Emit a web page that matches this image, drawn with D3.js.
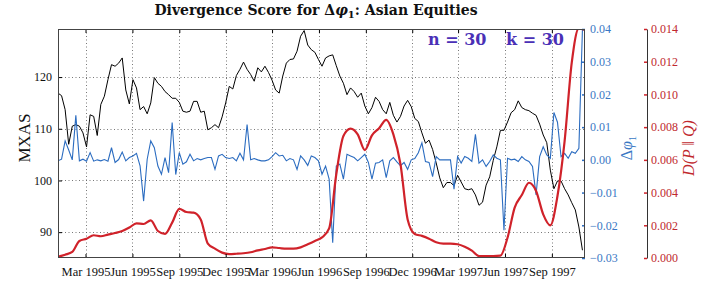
<!DOCTYPE html>
<html><head><meta charset="utf-8">
<script src="https://cdnjs.cloudflare.com/ajax/libs/d3/7.8.5/d3.min.js"></script>
<style>body{margin:0;background:#fff}svg{display:block;font-family:"Liberation Serif",serif}</style>
</head><body><svg id="c" width="706" height="281"></svg>
<script>
const startDate = "1995-01-06";
const endDate = "1997-11-05";
const xTickDates = ["1995-03-01","1995-06-01","1995-09-01","1995-12-01","1996-03-01","1996-06-01","1996-09-01","1996-12-01","1997-03-01","1997-06-01","1997-09-01"];
const leftTicks = [90,100,110,120];
const blueTicks = [-0.03,-0.02,-0.01,0,0.01,0.02,0.03,0.04];
const redTicks = [0,0.002,0.004,0.006,0.008,0.010,0.012,0.014];
// weekly MXAS index
const mxas = [116.9,116.4,113.7,107.0,110.5,110.8,110.5,109.2,106.5,112.7,112.4,108.7,114.7,116.3,119.5,122.4,122.1,122.7,123.7,117.5,
114.8,119.5,117.9,113.7,114.3,112.9,115.0,119.9,118.8,118.2,117.2,116.6,115.9,115.9,115.1,113.4,113.2,113.4,115.3,115.3,
113.2,113.4,109.8,110.2,110.8,110.2,112.3,115.0,118.2,117.7,120.3,121.5,122.9,121.5,120.5,119.2,121.8,121.0,122.1,120.9,
119.4,117.5,116.9,120.2,122.7,123.4,123.5,125.0,127.9,129.0,126.2,125.3,124.8,123.4,122.1,123.7,124.1,124.3,122.2,120.2,
118.8,116.6,117.9,117.2,116.1,116.9,114.4,112.9,114.1,116.1,115.3,113.7,112.9,115.1,112.6,111.3,112.4,114.4,115.5,114.3,
112.0,111.4,109.2,107.2,107.8,106.0,103.4,100.5,98.6,99.6,99.6,99.0,101.0,99.7,98.4,98.2,98.4,97.2,95.2,95.8,
99.1,100.7,103.9,106.5,109.7,109.7,111.3,113.1,113.7,115.4,114.1,113.7,113.5,113.0,112.6,110.9,108.8,107.3,102.0,98.4,
99.9,99.9,98.4,97.2,95.7,94.3,91.0,86.5];
// weekly delta phi_1
const dphi = [-0.0003,0.0002,0.0058,0.0030,0.0000,0.0136,-0.0003,0.0002,-0.0004,0.0022,-0.0004,0.0000,-0.0003,0.0001,-0.0004,0.0037,-0.0008,0.0001,0.0024,-0.0003,
0.0007,0.0012,0.0020,-0.0018,-0.0126,0.0002,0.0058,0.0037,-0.0019,-0.0044,0.0007,-0.0039,0.0114,-0.0045,0.0022,-0.0013,-0.0006,0.0017,-0.0003,0.0004,
0.0000,0.0004,0.0007,0.0007,-0.0029,0.0012,0.0017,0.0007,0.0004,0.0007,-0.0003,0.0020,0.0000,0.0108,0.0000,0.0004,0.0000,-0.0003,-0.0003,0.0000,
0.0010,0.0022,0.0012,0.0014,-0.0003,0.0004,0.0000,-0.0029,0.0012,0.0000,-0.0017,0.0012,0.0007,-0.0003,-0.0044,-0.0019,-0.0059,-0.0253,-0.0019,-0.0013,
-0.0059,0.0017,0.0012,0.0007,-0.0003,0.0007,0.0017,-0.0008,-0.0059,-0.0010,-0.0008,0.0000,-0.0054,-0.0003,0.0007,-0.0006,-0.0018,-0.0008,-0.0029,0.0000,
0.0004,0.0022,0.0052,-0.0005,-0.0008,-0.0051,0.0010,0.0000,0.0000,0.0000,0.0000,-0.0090,0.0010,-0.0010,0.0010,0.0005,-0.0005,0.0078,-0.0010,0.0000,
-0.0020,-0.0005,0.0015,0.0005,0.0000,-0.0215,0.0005,0.0000,0.0002,-0.0005,0.0010,0.0000,-0.0005,-0.0020,-0.0107,0.0010,0.0040,0.0015,0.0005,0.0145,
0.0115,0.0010,0.0020,0.0005,0.0025,0.0020,0.0035,0.0400];
// biweekly divergence D(P||Q)
const divergence = [0.00008,0.0002,0.00037,0.00104,0.00118,0.00139,0.00133,0.00143,0.00153,0.00165,
0.00186,0.00212,0.00208,0.0023,0.00165,0.00147,0.00216,0.0030,0.00281,0.00277,
0.00236,0.00088,0.00057,0.00033,0.00024,0.00026,0.00029,0.00035,0.00047,0.00055,
0.00065,0.00061,0.00057,0.00057,0.00065,0.00084,0.00104,0.00126,0.00181,0.00512,
0.00746,0.00791,0.00756,0.0066,0.0075,0.00793,0.00844,0.00756,0.00573,0.00236,
0.00147,0.00135,0.00118,0.00096,0.00088,0.00088,0.00084,0.00069,0.00045,0.00012,
0.00012,0.00012,0.00014,0.00124,0.00308,0.00385,0.0046,0.0041,0.00267,0.0020,
0.00379,0.00715,0.01194,0.01404,0.0139];

const parse = d3.utcParse("%Y-%m-%d");
const t0 = parse(startDate);
const weekly = mxas.map((_, i) => d3.utcDay.offset(t0, 7 * i));
const biweekly = divergence.map((_, j) => d3.utcDay.offset(t0, 14 * j));

const L = 58, R = 585, T = 29, B = 258;
const svg = d3.select("#c");
const x = d3.scaleUtc().domain([t0, parse(endDate)]).range([L, R]);
const yL = d3.scaleLinear().domain([85, 129.3]).range([B, T]);
const yB = d3.scaleLinear().domain([-0.03, 0.04]).range([B, T]);
const yR = d3.scaleLinear().domain([0, 0.014]).range([B, T]);

const BLUE = "#2b6cc0", RED = "#d0222a", PURPLE = "#4a30b6";
const SERIF = "Liberation Serif";

svg.append("defs").append("clipPath").attr("id", "clip")
  .append("rect").attr("x", L).attr("y", T).attr("width", R - L).attr("height", B - T);

// grid
const grid = svg.append("g").attr("stroke", "#555").attr("stroke-width", 0.8).attr("stroke-dasharray", "1,2.5");
grid.selectAll(".gx").data(xTickDates).join("line")
  .attr("x1", d => Math.round(x(parse(d))) + 0.5).attr("x2", d => Math.round(x(parse(d))) + 0.5)
  .attr("y1", T).attr("y2", B);
grid.selectAll(".gy").data(leftTicks).join("line")
  .attr("x1", L).attr("x2", R)
  .attr("y1", d => Math.round(yL(d)) + 0.5).attr("y2", d => Math.round(yL(d)) + 0.5);

// series
const plot = svg.append("g").attr("clip-path", "url(#clip)");
plot.append("path").datum(mxas)
  .attr("fill", "none").attr("stroke", "#000").attr("stroke-width", 1)
  .attr("d", d3.line().x((d, i) => x(weekly[i])).y(d => yL(d)));
plot.append("path").datum(dphi)
  .attr("fill", "none").attr("stroke", BLUE).attr("stroke-width", 1.1)
  .attr("d", d3.line().x((d, i) => x(weekly[i])).y(d => yB(d)));
plot.append("path").datum(divergence)
  .attr("fill", "none").attr("stroke", RED).attr("stroke-width", 2.2)
  .attr("stroke-linejoin", "round")
  .attr("d", d3.line().curve(d3.curveMonotoneX).x((d, i) => x(biweekly[i])).y(d => yR(d)));

// axes
const fmtX = d3.utcFormat("%b %Y");
const xAxis = d3.axisBottom(x).tickValues(xTickDates.map(parse)).tickFormat(fmtX).tickSizeInner(-4).tickSizeOuter(0).tickPadding(9);
const gx = svg.append("g").attr("transform", `translate(0,${B})`).call(xAxis);
gx.select(".domain").remove();
gx.attr("font-family", SERIF);
gx.selectAll("text").attr("font-size", 12.5).attr("fill", "#111");
gx.selectAll("line").attr("stroke", "#000");
const gxt = svg.append("g").attr("transform", `translate(0,${T})`)
  .call(d3.axisTop(x).tickValues(xTickDates.map(parse)).tickFormat("").tickSizeInner(-4).tickSizeOuter(0));
gxt.select(".domain").remove();

const gyl = svg.append("g").attr("transform", `translate(${L},0)`)
  .call(d3.axisLeft(yL).tickValues(leftTicks).tickSizeInner(-4).tickSizeOuter(0).tickPadding(6));
gyl.select(".domain").remove();
gyl.attr("font-family", SERIF);
gyl.selectAll("text").attr("font-size", 12).attr("fill", "#111");

const gyb = svg.append("g").attr("transform", `translate(${R},0)`)
  .call(d3.axisRight(yB).tickValues(blueTicks).tickFormat(d3.format(".2f")).tickSizeInner(-3).tickSizeOuter(0).tickPadding(5));
gyb.select(".domain").remove();
gyb.attr("font-family", SERIF);
gyb.selectAll("line").attr("stroke", BLUE).attr("stroke-width", 1.5);
gyb.selectAll("text").attr("font-size", 12).attr("fill", "#3a78c4");

const RX = 647;
const gyr = svg.append("g").attr("transform", `translate(${RX},0)`)
  .call(d3.axisRight(yR).tickValues(redTicks).tickFormat(d3.format(".3f")).tickSizeInner(-3).tickSizeOuter(0).tickPadding(4));
gyr.attr("font-family", SERIF);
gyr.select(".domain").attr("stroke", "#333").attr("stroke-width", 1);
gyr.selectAll(".tick line").attr("stroke", RED).attr("stroke-width", 1.5);
gyr.selectAll("text").attr("font-size", 12).attr("fill", "#c0282d");

// frame
svg.append("rect").attr("x", L + 0.5).attr("y", T + 0.5).attr("width", R - L - 1).attr("height", B - T - 1)
  .attr("fill", "none").attr("stroke", "#444").attr("stroke-width", 1);

// title
const title = svg.append("text").attr("x", 316).attr("y", 15).attr("text-anchor", "middle")
  .attr("font-size", 14).attr("font-weight", "bold").attr("fill", "#111").attr("font-family", "DejaVu Serif");
title.append("tspan").text("Divergence Score for Δ");
title.append("tspan").attr("font-style", "italic").text("φ");
title.append("tspan").attr("font-size", 10).attr("dy", 3).text("1");
title.append("tspan").attr("dy", -3).text(": Asian Equities");

// annotation
svg.append("text").attr("x", 428).attr("y", 45).attr("font-size", 16).attr("font-weight", "bold")
  .attr("font-family", "DejaVu Serif").attr("fill", PURPLE).text("n = 30");
svg.append("text").attr("x", 506).attr("y", 45).attr("font-size", 16).attr("font-weight", "bold")
  .attr("font-family", "DejaVu Serif").attr("fill", PURPLE).text("k = 30");

// axis labels
svg.append("text").attr("transform", "translate(30,138) rotate(-90)").attr("text-anchor", "middle")
  .attr("font-size", 17).attr("fill", "#111").text("MXAS");
const lb = svg.append("text").attr("transform", "translate(632,148) rotate(-90)").attr("text-anchor", "middle")
  .attr("font-size", 16).attr("fill", "#3a78c4");
lb.append("tspan").text("Δ");
lb.append("tspan").attr("font-style", "italic").text("φ");
lb.append("tspan").attr("font-size", 11).attr("dy", 4).text("1");
const lr = svg.append("text").attr("transform", "translate(694,148) rotate(-90)").attr("text-anchor", "middle")
  .attr("font-size", 16).attr("fill", "#c0282d").attr("font-style", "italic");
lr.append("tspan").text("D(P ");
lr.append("tspan").attr("font-style", "normal").text("‖");
lr.append("tspan").text(" Q)");
</script></body></html>
